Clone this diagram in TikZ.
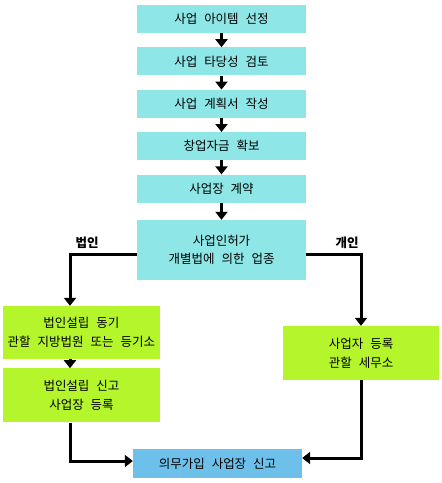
\documentclass[tikz,border=0pt]{standalone}
\usepackage{fontspec}
\setmainfont[WordSpace=2.5]{Noto Sans CJK KR}
\usetikzlibrary{arrows.meta,positioning}
\definecolor{stagecyan}{HTML}{8EE6E6}
\definecolor{branchgreen}{HTML}{B4F52B}
\definecolor{finalblue}{HTML}{6DC0EA}
\tikzset{
  stage/.style={fill=stagecyan,minimum width=169pt,minimum height=28pt,inner sep=0pt,align=center,font=\fontsize{12.5}{18}\selectfont},
  branch/.style={fill=branchgreen,minimum width=157pt,minimum height=54pt,inner sep=0pt,align=center,font=\fontsize{12.5}{19}\selectfont},
  flow/.style={-{Triangle[width=12pt,length=8pt]},line width=3pt,color=black},
  tag/.style={font=\bfseries\fontsize{12.5}{15}\selectfont}
}
\begin{document}
\begin{tikzpicture}[x=1pt,y=-1pt,node distance=14pt]
  \useasboundingbox (0,0) rectangle (442,483);
  \node[stage] (s1) at (221.5,19) {사업 아이템 선정};
  \node[stage,below=of s1] (s2) {사업 타당성 검토};
  \node[stage,below=of s2] (s3) {사업 계획서 작성};
  \node[stage,below=of s3] (s4) {창업자금 확보};
  \node[stage,below=of s4] (s5) {사업장 계약};
  \node[stage,minimum height=60pt,below=17pt of s5] (s6) {사업인허가\\개별법에 의한 업종};
  \node[branch,minimum height=53pt] (c1) at (81.5,332.5) {법인설립 동기\\관할 지방법원 또는 등기소};
  \node[branch,below=9pt of c1] (c2) {법인설립 신고\\사업장 등록};
  \node[branch,minimum width=156pt] (p1) at (361,353) {사업자 등록\\관할 세무소};
  \node[stage,fill=finalblue,minimum height=29pt] (f) at (217.5,463.5) {의무가입 사업장 신고};
  \node[tag] (corp) at (87,243) {법인};
  \node[tag] (indiv) at (347,243) {개인};
  \foreach \a/\b in {s1/s2,s2/s3,s3/s4,s4/s5,s5/s6}
    \draw[flow] (\a) -- (\b);
  \draw[flow] ([yshift=-4pt]s6.west) -| ([xshift=-11.5pt]c1.north);
  \draw[flow] ([xshift=-11.5pt]c1.south) -- ([xshift=-11.5pt]c2.north);
  \draw[flow] ([yshift=-4pt]s6.east) -| (p1.north);
  \draw[flow] ([xshift=-11.5pt]c2.south) |- ([yshift=2.5pt]f.west);
  \draw[flow] (p1.south) |- ([yshift=5.5pt]f.east);
\end{tikzpicture}
\end{document}
